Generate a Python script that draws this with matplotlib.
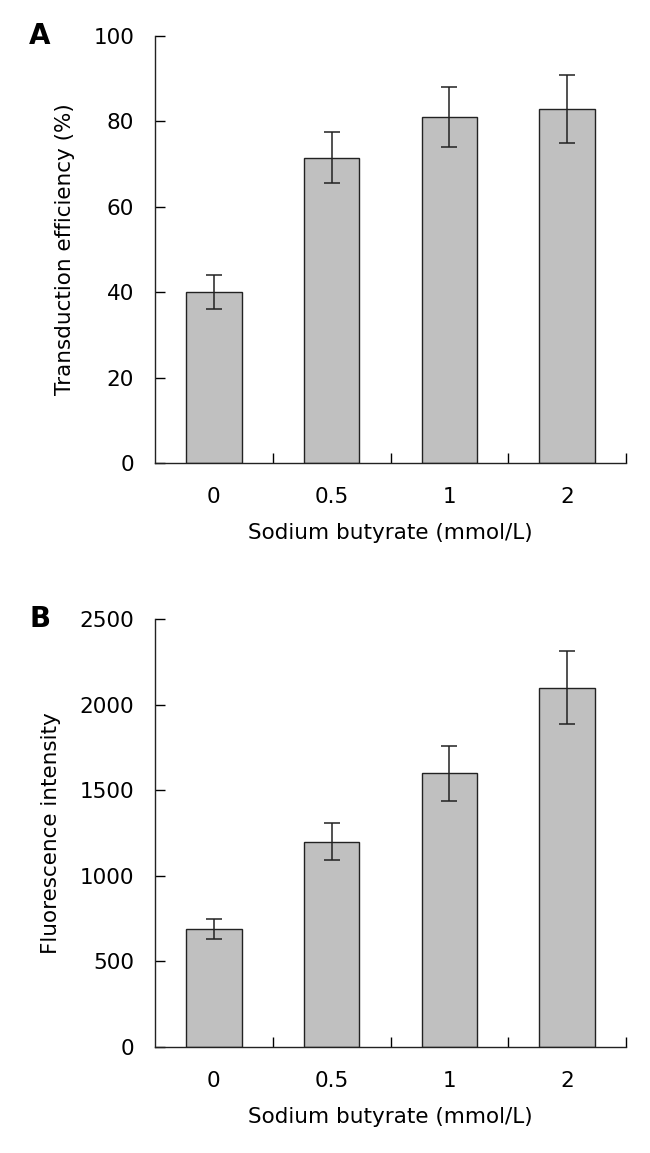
import numpy as np
import matplotlib.pyplot as plt

# Data
doses = ['0', '0.5', '1', '2']
transduction = [40, 71.5, 81, 83]
transduction_err = [4, 6, 7, 8]
fluorescence = [690, 1200, 1600, 2100]
fluorescence_err = [60, 110, 160, 215]

plt.rcParams['font.family'] = ['DejaVu Sans']
plt.rcParams['font.size'] = 15.5

fig = plt.figure(figsize=(6.5, 11.53), dpi=100)
axA = fig.add_axes([0.2385, 0.5984, 0.7246, 0.3703])
axB = fig.add_axes([0.2385, 0.0919, 0.7246, 0.3712])


def draw_panel(ax, vals, errs, ylim, yticks, ylabel, letter):
    x = np.arange(len(doses))
    ax.bar(x, vals, width=0.47, color='#c0c0c0', edgecolor='#222222', linewidth=1.0)
    ax.errorbar(x, vals, yerr=errs, fmt='none', ecolor='#222222',
                elinewidth=1.1, capsize=5.5, capthick=1.1)
    ax.set_xlim(-0.5, len(doses) - 0.5)
    ax.set_ylim(*ylim)
    ax.set_yticks(yticks)
    ax.set_xticks(x)
    ax.set_xticklabels(doses)
    ax.set_xticks(x + 0.5, minor=True)
    ax.tick_params(axis='x', which='major', length=0, pad=17)
    ax.tick_params(axis='x', which='minor', direction='in', length=7, width=1.0)
    ax.tick_params(axis='y', direction='in', length=7, width=1.0, pad=15)
    for s in ['top', 'right']:
        ax.spines[s].set_visible(False)
    for s in ['left', 'bottom']:
        ax.spines[s].set_linewidth(1.0)
        ax.spines[s].set_color('#222222')
    ax.set_xlabel('Sodium butyrate (mmol/L)', labelpad=12)
    ax.set_ylabel(ylabel, labelpad=13)
    ax.text(-0.244, 1.0, letter, transform=ax.transAxes, fontsize=20,
            fontweight='heavy', ha='center', va='center')


draw_panel(axA, transduction, transduction_err, (0, 100), [0, 20, 40, 60, 80, 100],
           'Transduction efficiency (%)', 'A')
draw_panel(axB, fluorescence, fluorescence_err, (0, 2500), [0, 500, 1000, 1500, 2000, 2500],
           'Fluorescence intensity', 'B')

fig.savefig('out.png', dpi=100)
